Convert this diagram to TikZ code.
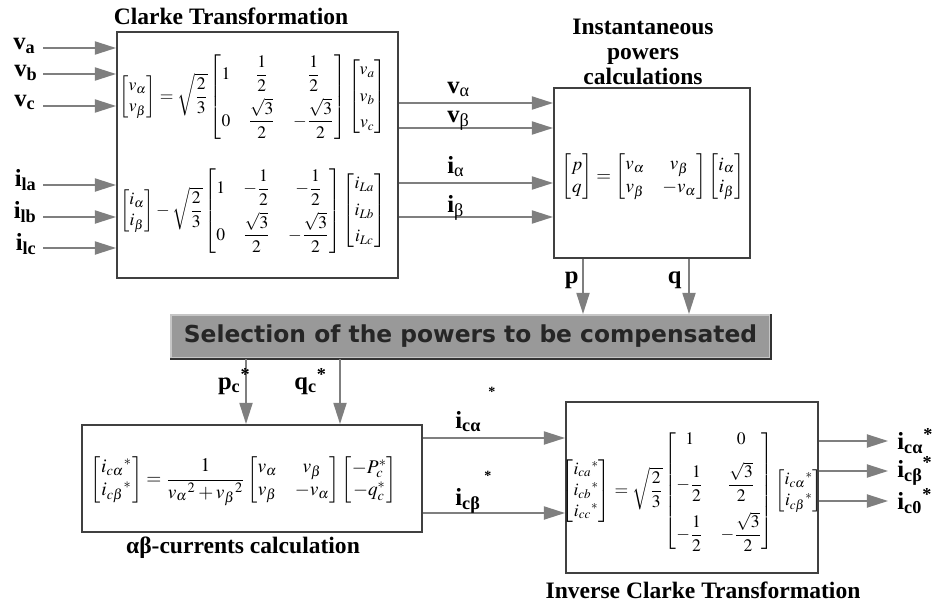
\documentclass[tikz,border=0pt]{standalone}
\usepackage{amsmath}
\usepackage{mathptmx}
\usepackage{fontspec}
\setmainfont{Liberation Serif}
\newfontfamily\selfont{DejaVu Sans}
\usetikzlibrary{positioning,arrows.meta}
\definecolor{Wire}{HTML}{7F7F7F}
\definecolor{Edge}{HTML}{404040}
\definecolor{Panel}{HTML}{999999}
\definecolor{PanelDark}{HTML}{333333}
\definecolor{PanelLight}{HTML}{C6C6C6}
\definecolor{Ink}{HTML}{262626}
\tikzset{
  block box/.style={draw=Edge,line width=1.2pt,fill=white,inner sep=0pt},
  block title/.style={font=\fontsize{13.4}{14.4}\selectfont\bfseries,align=center,inner sep=0pt},
  block eq/.style={font=\fontsize{10}{12}\selectfont,inner sep=0pt},
  signal label/.style={font=\fontsize{14}{16}\selectfont\bfseries,inner sep=0pt},
  signal arrow/.style={-{Triangle[length=12pt,width=7.5pt]},line width=.8pt,draw=Wire},
  selection bar/.style={fill=Panel,draw=PanelLight,line width=1.2pt,inner sep=0pt,
    font=\selfont\fontsize{13.3}{15}\selectfont\bfseries,text=Ink}
}
\newcommand{\gsub}[1]{\textsubscript{\mdseries #1}}

\begin{document}
\begin{tikzpicture}[x=0.02cm,y=-0.02cm]
  \useasboundingbox (0,0) rectangle (937,605);
  % Clarke transformation
  \node[block box,minimum width=5.62cm,minimum height=4.92cm] (clarke) at (257.5,155) {};
  \node[block title] (clarke title) at (231,16) {Clarke Transformation};
  \node[block eq] (clarke v) at (253,97) {$\begin{bmatrix} v_\alpha\\ v_\beta\end{bmatrix}=\sqrt{\dfrac{2}{3}}
    \begin{bmatrix} 1 & \dfrac{1}{2} & \dfrac{1}{2}\\[7pt] 0 & \dfrac{\sqrt{3}}{2} & -\dfrac{\sqrt{3}}{2}\end{bmatrix}
    \begin{bmatrix} v_a\\[3pt] v_b\\[3pt] v_c\end{bmatrix}$};
  \node[block eq] (clarke i) at (253,211) {$\begin{bmatrix} i_\alpha\\ i_\beta\end{bmatrix}-\sqrt{\dfrac{2}{3}}
    \begin{bmatrix} 1 & -\dfrac{1}{2} & -\dfrac{1}{2}\\[7pt] 0 & \dfrac{\sqrt{3}}{2} & -\dfrac{\sqrt{3}}{2}\end{bmatrix}
    \begin{bmatrix} i_{La}\\[3pt] i_{Lb}\\[3pt] i_{Lc}\end{bmatrix}$};
  % Instantaneous powers
  \node[block box,minimum width=3.92cm,minimum height=3.4cm] (inst) at (652,173) {};
  \node[block title] (inst title) at (643,52) {Instantaneous\\powers\\calculations};
  \node[block eq,font=\fontsize{10.8}{13}\selectfont] (inst eq) at (653,177) {$\begin{bmatrix} p\\ q\end{bmatrix}=
    \begin{bmatrix} v_\alpha & v_\beta\\ v_\beta & -v_\alpha\end{bmatrix}
    \begin{bmatrix} i_\alpha\\ i_\beta\end{bmatrix}$};
  % selection bar
  \node[selection bar,minimum width=11.98cm,minimum height=.86cm] (sel) at (470.5,336.5)
    {Selection of the powers to be compensated};
  \draw[PanelDark,line width=1.6pt] (sel.south west) -- (sel.south east) -- (sel.north east);
  % alpha-beta currents
  \node[block box,minimum width=6.8cm,minimum height=2.14cm] (ab) at (252,478.5) {};
  \node[block title] (ab title) at (243,548) {αβ-currents calculation};
  \node[block eq,font=\fontsize{11}{13}\selectfont] (ab eq) at (244,481) {$\begin{bmatrix} i_{c\alpha}{}^{*}\\ i_{c\beta}{}^{*}\end{bmatrix}=
    \dfrac{1}{v_\alpha{}^{2}+v_\beta{}^{2}}
    \begin{bmatrix} v_\alpha & v_\beta\\ v_\beta & -v_\alpha\end{bmatrix}
    \begin{bmatrix} -P_c^{*}\\ -q_c^{*}\end{bmatrix}$};
  % inverse Clarke
  \node[block box,minimum width=5.04cm,minimum height=3.42cm] (inv) at (692,487.5) {};
  \node[block title] (inv title) at (703,590) {Inverse Clarke Transformation};
  \node[block eq] (inv eq) at (692,491) {$\begin{bmatrix} i_{ca}{}^{*}\\ i_{cb}{}^{*}\\ i_{cc}{}^{*}\end{bmatrix}=\sqrt{\dfrac{2}{3}}
    \begin{bmatrix} 1 & 0\\[6pt] -\dfrac{1}{2} & \dfrac{\sqrt{3}}{2}\\[9pt] -\dfrac{1}{2} & -\dfrac{\sqrt{3}}{2}\end{bmatrix}
    \begin{bmatrix} i_{c\alpha}{}^{*}\\ i_{c\beta}{}^{*}\end{bmatrix}$};

  % inputs of the Clarke block
  \coordinate (va in) at (43,48);
  \coordinate (vb in) at (43,74);
  \coordinate (vc in) at (43,106);
  \coordinate (ia in) at (43,185);
  \coordinate (ib in) at (43,217);
  \coordinate (ic in) at (43,248);
  \node[signal label,anchor=base east] (va) at (36,50) {v\textsubscript{a}};
  \node[signal label,anchor=base east] (vb) at (38,76) {v\textsubscript{b}};
  \node[signal label,anchor=base east] (vc) at (36,106) {v\textsubscript{c}};
  \node[signal label,anchor=base east] (ila) at (37,186) {i\textsubscript{la}};
  \node[signal label,anchor=base east] (ilb) at (37,218) {i\textsubscript{lb}};
  \node[signal label,anchor=base east] (ilc) at (37,250) {i\textsubscript{lc}};
  \draw[signal arrow] (va in) -- (va in -| clarke.west);
  \draw[signal arrow] (vb in) -- (vb in -| clarke.west);
  \draw[signal arrow] (vc in) -- (vc in -| clarke.west);
  \draw[signal arrow] (ia in) -- (ia in -| clarke.west);
  \draw[signal arrow] (ib in) -- (ib in -| clarke.west);
  \draw[signal arrow] (ic in) -- (ic in -| clarke.west);

  % Clarke -> instantaneous powers
  \coordinate (valpha) at (0,103);
  \coordinate (vbeta) at (0,128);
  \coordinate (ialpha) at (0,183);
  \coordinate (ibeta) at (0,217);
  \draw[signal arrow] (valpha -| clarke.east) -- (valpha -| inst.west);
  \draw[signal arrow] (vbeta -| clarke.east) -- (vbeta -| inst.west);
  \draw[signal arrow] (ialpha -| clarke.east) -- (ialpha -| inst.west);
  \draw[signal arrow] (ibeta -| clarke.east) -- (ibeta -| inst.west);
  \node[signal label,anchor=base west] (lvalpha) at (447,93) {v\gsub{α}};
  \node[signal label,anchor=base west] (lvbeta) at (447,122) {v\gsub{β}};
  \node[signal label,anchor=base west] (lialpha) at (447,173) {i\gsub{α}};
  \node[signal label,anchor=base west] (libeta) at (447,212) {i\gsub{β}};

  % powers to the selection bar
  \coordinate (pline) at (583,0);
  \coordinate (qline) at (689,0);
  \draw[signal arrow] (pline |- inst.south) -- (pline |- sel.north);
  \draw[signal arrow] (qline |- inst.south) -- (qline |- sel.north);
  \node[signal label,anchor=base east] (lp) at (579,283) {p};
  \node[signal label,anchor=base east] (lq) at (682,283) {q};

  % selection -> alpha-beta currents
  \coordinate (pcline) at (246,0);
  \coordinate (qcline) at (340,0);
  \draw[signal arrow] (pcline |- sel.south) -- (pcline |- ab.north);
  \draw[signal arrow] (qcline |- sel.south) -- (qcline |- ab.north);
  \node[signal label,anchor=base east] (lpc) at (251,389) {p\textsubscript{c}\textsuperscript{*}};
  \node[signal label,anchor=base west] (lqc) at (294,389) {q\textsubscript{c}\textsuperscript{*}};

  % alpha-beta currents -> inverse Clarke
  \coordinate (icalpha) at (0,438);
  \coordinate (icbeta) at (0,513);
  \draw[signal arrow] (icalpha -| ab.east) -- (icalpha -| inv.west);
  \draw[signal arrow] (icbeta -| ab.east) -- (icbeta -| inv.west);
  \node[signal label,anchor=base west] (licalpha) at (455,428) {i\textsubscript{cα}\hspace{4pt}\raisebox{18pt}{\fontsize{8}{8}\selectfont*}};
  \node[signal label,anchor=base west] (licbeta) at (455,505) {i\textsubscript{cβ}\hspace{2pt}\raisebox{14pt}{\fontsize{8}{8}\selectfont*}};

  % outputs
  \coordinate (ica out) at (888,441);
  \coordinate (icb out) at (888,471);
  \coordinate (ic0 out) at (888,501);
  \draw[signal arrow] (ica out -| inv.east) -- (ica out);
  \draw[signal arrow] (icb out -| inv.east) -- (icb out);
  \draw[signal arrow] (ic0 out -| inv.east) -- (ic0 out);
  \node[signal label,anchor=west] (lica) at (897,441) {i\textsubscript{cα}\textsuperscript{*}};
  \node[signal label,anchor=west] (licb) at (897,471) {i\textsubscript{cβ}\textsuperscript{*}};
  \node[signal label,anchor=west] (lic0) at (897,501) {i\textsubscript{c0}\textsuperscript{*}};
\end{tikzpicture}
\end{document}
